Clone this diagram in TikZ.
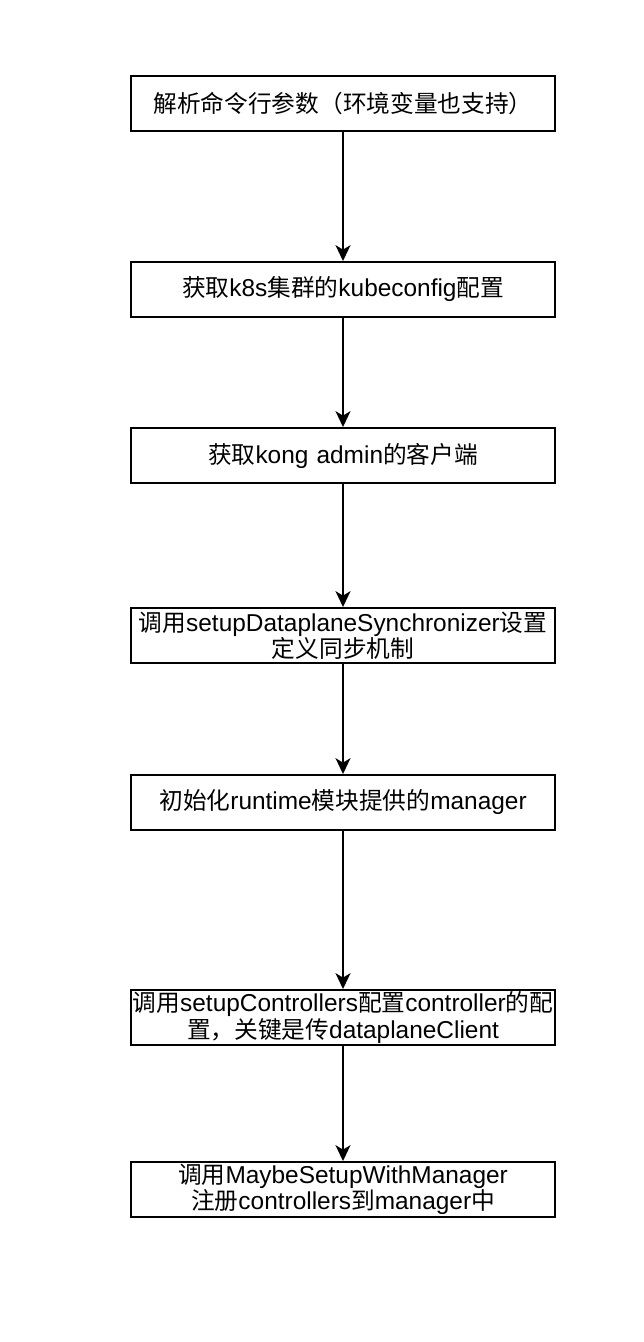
\documentclass[tikz,border=0pt]{standalone}
\usepackage{fontspec}
\usetikzlibrary{arrows.meta}
\setmainfont{Liberation Sans}
\newfontfamily\cjk[Scale=0.97]{Noto Sans CJK SC}
\newcommand{\zh}[1]{{\cjk #1}}
\tikzset{
  stepbox/.style={draw=black, line width=1.1pt, minimum width=424*0.02cm, minimum height=55*0.02cm,
    text width=422*0.02cm, align=center, inner sep=0pt, font=\fontsize{13.9}{14.9}\selectfont},
  flow/.style={line width=1.1pt, -{Stealth[length=9pt, width=8.5pt, inset=2.5pt]}}
}
\begin{document}
\begin{tikzpicture}[x=0.02cm,y=-0.02cm]
\useasboundingbox[fill=white] (0,0) rectangle (644,1342);
\node[stepbox] (s1) at (343,103.5) {\zh{解析命令行参数（环境变量也支持）}};
\node[stepbox] (s2) at (343,289.5) {\zh{获取}k8s\zh{集群的}kubeconfig\zh{配置}};
\node[stepbox] (s3) at (343,455.5) {\zh{获取}kong admin\zh{的客户端}};
\node[stepbox] (s4) at (343,635.5) {\zh{调用}setupDataplaneSynchronizer\zh{设置}\\\zh{定义同步机制}};
\node[stepbox] (s5) at (343,802.5) {\zh{初始化}runtime\zh{模块提供的}manager};
\node[stepbox] (s6) at (343,1017.5) {\zh{调用}setupControllers\zh{配置}controller\zh{的配}\\\zh{置，关键是传}dataplaneClient};
\node[stepbox] (s7) at (343,1189.5) {\zh{调用}MaybeSetupWithManager\\\zh{注册}controllers\zh{到}manager\zh{中}};
\draw[flow] (s1) -- (s2);
\draw[flow] (s2) -- (s3);
\draw[flow] (s3) -- (s4);
\draw[flow] (s4) -- (s5);
\draw[flow] (s5) -- (s6);
\draw[flow] (s6) -- (s7);
\end{tikzpicture}
\end{document}
